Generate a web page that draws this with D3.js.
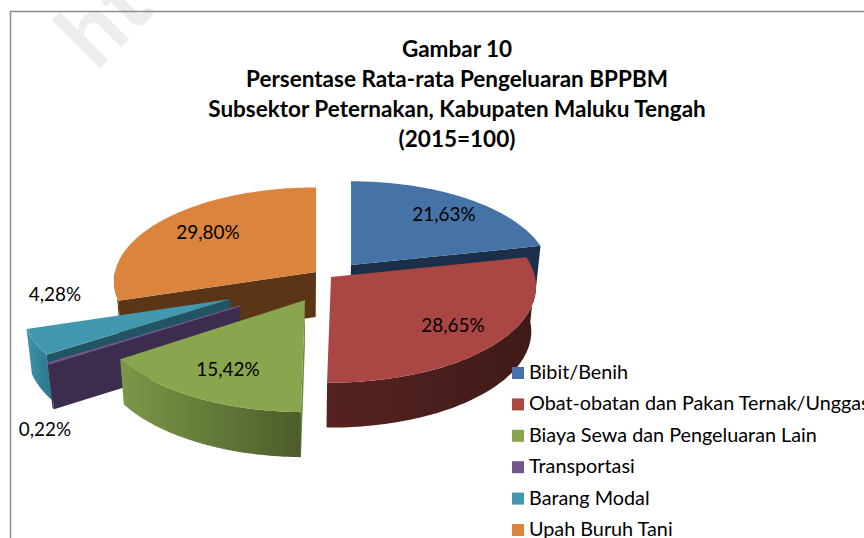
<!DOCTYPE html>
<meta charset="utf-8">
<style>
body { margin: 0; background: #fff; overflow: hidden; }
text { font-family: Lato, sans-serif; fill: #000; }
.title { font-size: 22.5px; font-weight: bold; text-anchor: middle; }
.pct { font-size: 18.9px; text-anchor: middle; }
.legend { font-size: 19.8px; }
.watermark { font-size: 92px; font-weight: bold; fill: #ededed; }
</style>
<body>
<div id="chart"></div>
<script src="https://d3js.org/d3.v7.min.js"></script>
<script>

var titleLines = ["Gambar 10", "Persentase Rata-rata Pengeluaran BPPBM", "Subsektor Peternakan, Kabupaten Maluku Tengah", "(2015=100)"];
var categories = ["Bibit/Benih", "Obat-obatan dan Pakan Ternak/Unggas", "Biaya Sewa dan Pengeluaran Lain", "Transportasi", "Barang Modal", "Upah Buruh Tani"];
var values = [21.63, 28.65, 15.42, 0.22, 4.28, 29.80];
var colors = ["#4573a7", "#aa4643", "#89a54e", "#71588f", "#4198af", "#db843d"];
var cutColors = ["#1b2e4a", "#4a1c1a", "#6f8a3c", "#3c2d4e", "#235461", "#5a3516"];
var wallLight = ["#1b2e4a", "#552321", "#7c9848", "#3c2d4e", "#3f93aa", "#5a3516"];
var wallDark = ["#1b2e4a", "#3f1a18", "#4c5c2a", "#3c2d4e", "#2f7a8f", "#5a3516"];

// hand placed exploded slices: apex, radii, label anchor
var layout = [
  {ax: 351, ay: 265, rx: 198, ry: 93, lx: 444, ly: 221},
  {ax: 331, ay: 277, rx: 204, ry: 96, lx: 453, ly: 332},
  {ax: 305, ay: 300, rx: 210, ry: 102, lx: 228, ly: 376},
  {ax: 240, ay: 306, rx: 217, ry: 100, lx: 45, ly: 436},
  {ax: 231, ay: 299, rx: 208, ry: 98, lx: 55, ly: 301},
  {ax: 316, ay: 272, rx: 201, ry: 94, lx: 208, ly: 239}
];
var drawOrder = [5, 0, 1, 4, 3, 2];
var depth = 45, persp = 0.1, vanishX = 300, converge = 0.02;

var width = 864, height = 538;

var svg = d3.select("#chart").append("svg")
    .attr("width", width)
    .attr("height", height);

var defs = svg.append("defs");

svg.append("text")
    .attr("class", "watermark")
    .attr("transform", "translate(96,72) rotate(-45)")
    .text("ht");

// chart frame, runs off the right and bottom of the page
svg.append("path")
    .attr("d", "M" + (width + 5) + ",11.5H10.5V" + (height + 5))
    .attr("fill", "none")
    .attr("stroke", "#8c8c8c")
    .attr("stroke-width", 1.5);

svg.selectAll(".title")
    .data(titleLines)
    .enter()
    .append("text")
    .attr("class", "title")
    .attr("x", 457)
    .attr("y", function(d, i) { return 56.5 + i * 30; })
    .text(function(d) { return d; });

var pie = d3.pie().sort(null).value(function(d) { return d; });
var arcs = pie(values);

function surfacePoint(i, t) {
  var l = layout[i], f = 1 - persp * Math.cos(t);
  return [l.ax + l.rx * Math.sin(t) * f, l.ay - l.ry * Math.cos(t) * f];
}

function drop(p) {
  return [p[0] + (vanishX - p[0]) * converge, p[1] + depth];
}

function arcPoints(i, a, b) {
  var n = Math.max(2, Math.ceil(Math.abs(b - a) / 0.02));
  return d3.range(n + 1).map(function(k) { return surfacePoint(i, a + (b - a) * k / n); });
}

var line = d3.line();
var pi = Math.PI;

drawOrder.forEach(function(i) {
  var d = arcs[i], l = layout[i], apex = [l.ax, l.ay];
  var g = svg.append("g").attr("class", "slice");

  // cut faces that turn toward the viewer
  [[d.startAngle, d.startAngle - pi / 2], [d.endAngle, d.endAngle + pi / 2]].forEach(function(c) {
    if (Math.cos(c[1]) < -1e-3) {
      var p = surfacePoint(i, c[0]);
      g.append("path")
          .attr("d", line([apex, p, drop(p), drop(apex)]) + "Z")
          .attr("fill", cutColors[i]);
    }
  });

  // outer wall along the front half
  var from = Math.max(d.startAngle, pi / 2), to = Math.min(d.endAngle, 3 * pi / 2);
  if (to > from) {
    var pts = arcPoints(i, from, to);
    var xs = d3.extent(pts, function(p) { return p[0]; });
    defs.append("linearGradient")
        .attr("id", "wall" + i)
        .attr("gradientUnits", "userSpaceOnUse")
        .attr("x1", xs[0]).attr("x2", xs[1])
        .selectAll("stop")
        .data([wallLight[i], wallDark[i]])
        .enter().append("stop")
        .attr("offset", function(c, k) { return k; })
        .attr("stop-color", function(c) { return c; });
    g.append("path")
        .attr("d", line(pts.concat(pts.map(drop).reverse())) + "Z")
        .attr("fill", "url(#wall" + i + ")");
  }

  // top surface
  g.append("path")
      .attr("d", line([apex].concat(arcPoints(i, d.startAngle, d.endAngle))) + "Z")
      .attr("fill", colors[i])
      .attr("stroke", i == 3 ? colors[i] : "none")
      .attr("stroke-width", 0.8);
});

svg.selectAll(".pct")
    .data(values)
    .enter()
    .append("text")
    .attr("class", "pct")
    .attr("x", function(d, i) { return layout[i].lx; })
    .attr("y", function(d, i) { return layout[i].ly; })
    .text(function(d) { return d.toFixed(2).replace(".", ",") + "%"; });

var legendY = d3.scalePoint()
    .domain(categories)
    .range([373, 530]);

var legend = svg.selectAll(".legend-item")
    .data(categories)
    .enter()
    .append("g")
    .attr("class", "legend-item")
    .attr("transform", function(d) { return "translate(512," + legendY(d) + ")"; });

legend.append("rect")
    .attr("y", -6)
    .attr("width", 12)
    .attr("height", 12)
    .attr("fill", function(d, i) { return colors[i]; });

legend.append("text")
    .attr("class", "legend")
    .attr("x", 17)
    .attr("y", 6)
    .text(function(d) { return d; });

</script>
</body>
